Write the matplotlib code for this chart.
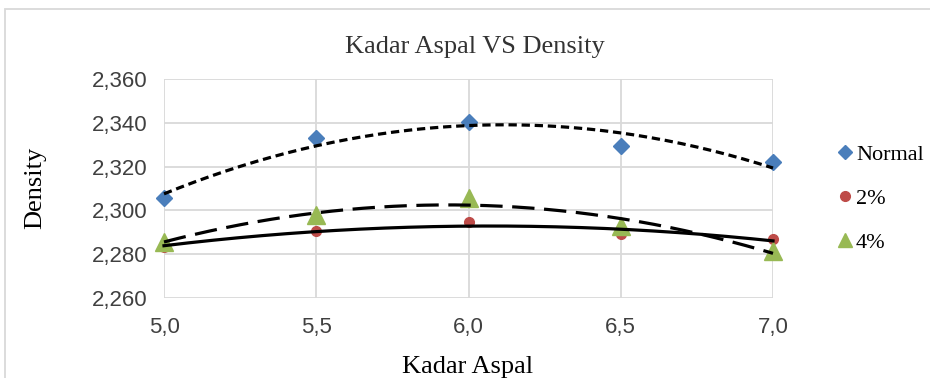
import numpy as np
import matplotlib
matplotlib.use("Agg")
import matplotlib.pyplot as plt
from matplotlib.patches import Rectangle

# data
kadar = [5.0, 5.5, 6.0, 6.5, 7.0]
normal = [2.3055, 2.3330, 2.3405, 2.3295, 2.3220]
dua_persen = [2.2835, 2.2905, 2.2945, 2.2890, 2.2870]
empat_persen = [2.2855, 2.2980, 2.3055, 2.2930, 2.2815]

x_ticks = [5.0, 5.5, 6.0, 6.5, 7.0]
y_ticks = [2.26, 2.28, 2.30, 2.32, 2.34, 2.36]

serif = ["Liberation Serif", "DejaVu Serif"]
sans = ["Liberation Sans Narrow", "Liberation Sans", "DejaVu Sans"]

fig = plt.figure(figsize=(9.3, 3.78), dpi=100)
ax = fig.add_axes([164 / 930, 1 - 298 / 378, (773 - 164) / 930, (298 - 79) / 378])

# outer chart border
fig.patches.append(Rectangle((5 / 930, -0.1), 1.0, 1 - 9 / 378 + 0.1,
                             transform=fig.transFigure, fill=False,
                             edgecolor="#d9d9d9", linewidth=1.3))

series = [
    ("Normal", normal, "#4a7ebb", "D", 8.5, (0, (2.6, 1.5))),
    ("2%", dua_persen, "#be4b48", "o", 7, "-"),
    ("4%", empat_persen, "#98b954", "^", 13, (0, (7, 3))),
]

xs = np.linspace(kadar[0], kadar[-1], 200)
for name, vals, color, marker, ms, ls in series:
    ax.plot(kadar, vals, linestyle="none", marker=marker, markersize=ms,
            color=color, label=name, zorder=3, clip_on=False)

for name, vals, color, marker, ms, ls in series:
    coef = np.polyfit(kadar, vals, 2)
    ax.plot(xs, np.polyval(coef, xs), color="black", linewidth=2.3,
            linestyle=ls, zorder=4, clip_on=False)

ax.set_xlim(5.0, 7.0)
ax.set_ylim(2.26, 2.36)
ax.set_xticks(x_ticks)
ax.set_yticks(y_ticks)
ax.set_xticklabels([f"{v:.1f}".replace(".", ",") for v in x_ticks],
                   family=sans, fontsize=16, color="#404040")
ax.set_yticklabels([f"{v:.3f}".replace(".", ",") for v in y_ticks],
                   family=sans, fontsize=16, color="#404040")
ax.tick_params(axis="y", length=0, pad=12)
ax.tick_params(axis="x", length=0, pad=14)
ax.grid(True, color="#d9d9d9", linewidth=1.3)
ax.set_axisbelow(True)
for s in ax.spines.values():
    s.set_visible(False)

fig.text(475 / 930, 1 - 47 / 378, "Kadar Aspal VS Density", family=serif,
         fontsize=19, ha="center", va="center", color="#333333")
fig.text(35 / 930, 1 - 188 / 378, "Density", family=serif, fontsize=19,
         rotation=90, ha="center", va="center")
fig.text(468 / 930, 1 - 367 / 378, "Kadar Aspal", family=serif, fontsize=19,
         ha="center", va="center")

leg = ax.legend(loc="center left", bbox_to_anchor=(1.085, 0.455), frameon=False,
                prop={"family": serif, "size": 16}, handletextpad=0.0,
                handlelength=1.0, labelspacing=1.05, borderaxespad=0)
# legend markers a bit smaller than the plotted ones
for h, size in zip(leg.legend_handles, [7.5, 7, 10]):
    h.set_markersize(size)

fig.savefig("out.png", dpi=100)
